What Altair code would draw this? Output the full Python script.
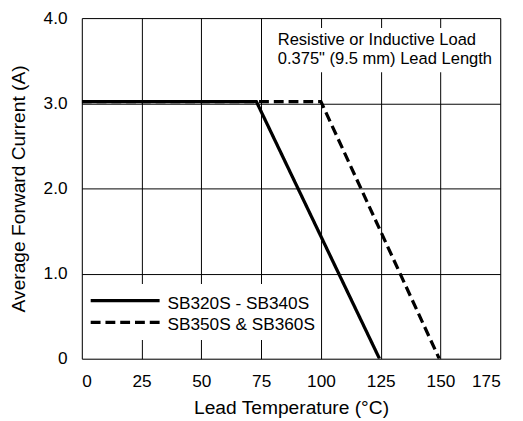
import altair as alt
import pandas as pd

# Data
solid_x = [0, 73, 124.5]
solid_y = [3.02, 3.02, 0]
dash_x = [0, 100, 149.5]
dash_y = [3.02, 3.02, 0]
series_names = ["SB320S - SB340S", "SB350S & SB360S"]
note_lines = ["Resistive or Inductive Load", "0.375\" (9.5 mm) Lead Length"]
x_ticks = [0, 25, 50, 75, 100, 125, 150, 175]
y_ticks = [0, 1, 2, 3, 4]

FONT = "Liberation Sans"

df = pd.DataFrame(
    [{"t": x, "i": y, "s": series_names[0], "o": k} for k, (x, y) in enumerate(zip(solid_x, solid_y))]
    + [{"t": x, "i": y, "s": series_names[1], "o": k} for k, (x, y) in enumerate(zip(dash_x, dash_y))]
)

W, H = 425, 346

xscale = alt.Scale(domain=[0, 175], nice=False, zero=False)
yscale = alt.Scale(domain=[0, 4], nice=False)

lines = alt.Chart(df).mark_line(color="black", strokeWidth=3.3, clip=True).encode(
    x=alt.X("t:Q", scale=xscale,
            axis=alt.Axis(values=x_ticks, title="Lead Temperature (°C)", grid=True,
                          gridColor="black", gridWidth=1, gridOpacity=1,
                          ticks=False, domain=False, labelPadding=14,
                          labelFontSize=17.5, labelFont=FONT, labelColor="black",
                          titleFont=FONT, titleFontSize=19.5, titleFontWeight="normal",
                          titleColor="black", titlePadding=9)),
    y=alt.Y("i:Q", scale=yscale,
            axis=alt.Axis(values=y_ticks, title="Average Forward Current (A)", grid=True,
                          gridColor="black", gridWidth=1, gridOpacity=1,
                          ticks=False, domain=False, labelPadding=15,
                          labelExpr="datum.value == 0 ? '0' : format(datum.value, '.1f')",
                          labelFontSize=17.5, labelFont=FONT, labelColor="black",
                          titleFont=FONT, titleFontSize=19.5, titleFontWeight="normal",
                          titleColor="black", titlePadding=15)),
    strokeDash=alt.StrokeDash("s:N", scale=alt.Scale(domain=series_names, range=[[1, 0], [10, 5]]),
                              legend=None),
    detail="s:N",
    order="o:Q",
)

box_df = pd.DataFrame({"k": [0]})
legend_box = alt.Chart(box_df).mark_rect(color="white").encode(
    x=alt.value(2), x2=alt.value(237), y=alt.value(270), y2=alt.value(327)
)
note_box = alt.Chart(box_df).mark_rect(color="white").encode(
    x=alt.value(195), x2=alt.value(422), y=alt.value(10), y2=alt.value(55)
)

leg_solid = alt.Chart(box_df).mark_rule(color="black", strokeWidth=3.3).encode(
    x=alt.value(9), x2=alt.value(79), y=alt.value(287)
)
leg_dash = alt.Chart(box_df).mark_rule(color="black", strokeWidth=3.3, strokeDash=[10, 5]).encode(
    x=alt.value(9), x2=alt.value(79), y=alt.value(309)
)
leg_t1 = alt.Chart(pd.DataFrame({"l": [series_names[0]]})).mark_text(
    align="left", baseline="middle", font=FONT, fontSize=17.5, color="black"
).encode(x=alt.value(87), y=alt.value(290), text="l:N")
leg_t2 = alt.Chart(pd.DataFrame({"l": [series_names[1]]})).mark_text(
    align="left", baseline="middle", font=FONT, fontSize=17.5, color="black"
).encode(x=alt.value(87), y=alt.value(312), text="l:N")

note_t1 = alt.Chart(pd.DataFrame({"l": [note_lines[0]]})).mark_text(
    align="left", baseline="middle", font=FONT, fontSize=16.8, color="black"
).encode(x=alt.value(199), y=alt.value(22), text="l:N")
note_t2 = alt.Chart(pd.DataFrame({"l": [note_lines[1]]})).mark_text(
    align="left", baseline="middle", font=FONT, fontSize=16.8, color="black"
).encode(x=alt.value(199), y=alt.value(42), text="l:N")

chart = alt.layer(
    legend_box, note_box, lines, leg_solid, leg_dash, leg_t1, leg_t2, note_t1, note_t2
).properties(
    width=W, height=H,
    autosize=alt.AutoSizeParams(type="none"),
    padding={"left": 75, "top": 7, "right": 15, "bottom": 60},
).configure_view(
    stroke="black", strokeWidth=2.5
).configure(background="white")

chart.save("out.html", embed_options={"renderer": "svg", "actions": False})
